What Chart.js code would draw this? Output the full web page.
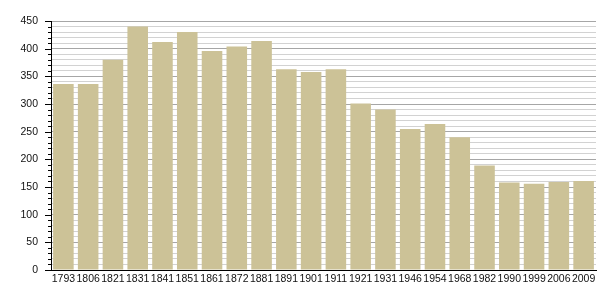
<!DOCTYPE html>
<html>
<head>
<meta charset="utf-8">
<script src="https://cdn.jsdelivr.net/npm/chart.js@4/dist/chart.umd.min.js"></script>
<style>
  html, body { margin: 0; padding: 0; background: #fff; }
  #wrap { width: 605px; height: 300px; position: relative; }
</style>
</head>
<body>
<div id="wrap"><canvas id="c"></canvas></div>
<script>
const years = ['1793', '1806', '1821', '1831', '1841', '1851', '1861', '1872', '1881', '1891', '1901',
  '1911', '1921', '1931', '1946', '1954', '1968', '1982', '1990', '1999', '2006', '2009'];
const population = [336, 336, 380, 440, 412, 430, 396, 404, 414, 363, 358,
  363, 301, 290, 255, 264, 240, 189, 158, 156, 159, 161];
const yTicksMajor = [0, 50, 100, 150, 200, 250, 300, 350, 400, 450];

// y-axis tick marks: long ones at labelled values, short ones in between
const tickMarks = {
  id: 'tickMarks',
  afterDraw(chart) {
    const y = chart.scales.y;
    const ctx = chart.ctx;
    ctx.save();
    ctx.strokeStyle = '#000';
    ctx.lineWidth = 1;
    y.ticks.forEach(t => {
      const py = Math.round(y.getPixelForValue(t.value)) + 0.5;
      const len = yTicksMajor.includes(t.value) ? 6 : 3;
      ctx.beginPath();
      ctx.moveTo(y.right - len, py);
      ctx.lineTo(y.right, py);
      ctx.stroke();
    });
    ctx.restore();
  }
};

const labelFont = { family: 'Liberation Sans, Arial, sans-serif', size: 10.5 };

new Chart(document.getElementById('c'), {
  type: 'bar',
  data: {
    labels: years,
    datasets: [{
      data: population,
      backgroundColor: '#ccc297',
      borderWidth: 0,
      barPercentage: 0.83,
      categoryPercentage: 1,
    }],
  },
  options: {
    responsive: true,
    maintainAspectRatio: false,
    animation: false,
    layout: { padding: { top: 21, right: 9, left: 0, bottom: 0 } },
    plugins: { legend: { display: false }, tooltip: { enabled: false } },
    scales: {
      x: {
        afterFit: s => { s.height = 30; },
        grid: { display: false, drawTicks: false },
        border: { color: '#000', width: 1 },
        ticks: {
          autoSkip: false, maxRotation: 0, minRotation: 0, padding: 3,
          color: '#111', font: labelFont,
        },
      },
      y: {
        min: 0,
        max: 450,
        afterFit: s => { s.width = 51; },
        border: { color: '#000', width: 1 },
        grid: {
          drawTicks: false,
          color: c => (yTicksMajor.includes(c.tick.value) ? '#a6a6a6' : '#d2d2d2'),
          lineWidth: 1,
        },
        ticks: {
          stepSize: 10,
          autoSkip: false,
          padding: 13,
          color: '#111',
          font: labelFont,
          callback: v => (yTicksMajor.includes(v) ? String(v) : ''),
        },
      },
    },
  },
  plugins: [tickMarks],
});
</script>
</body>
</html>
